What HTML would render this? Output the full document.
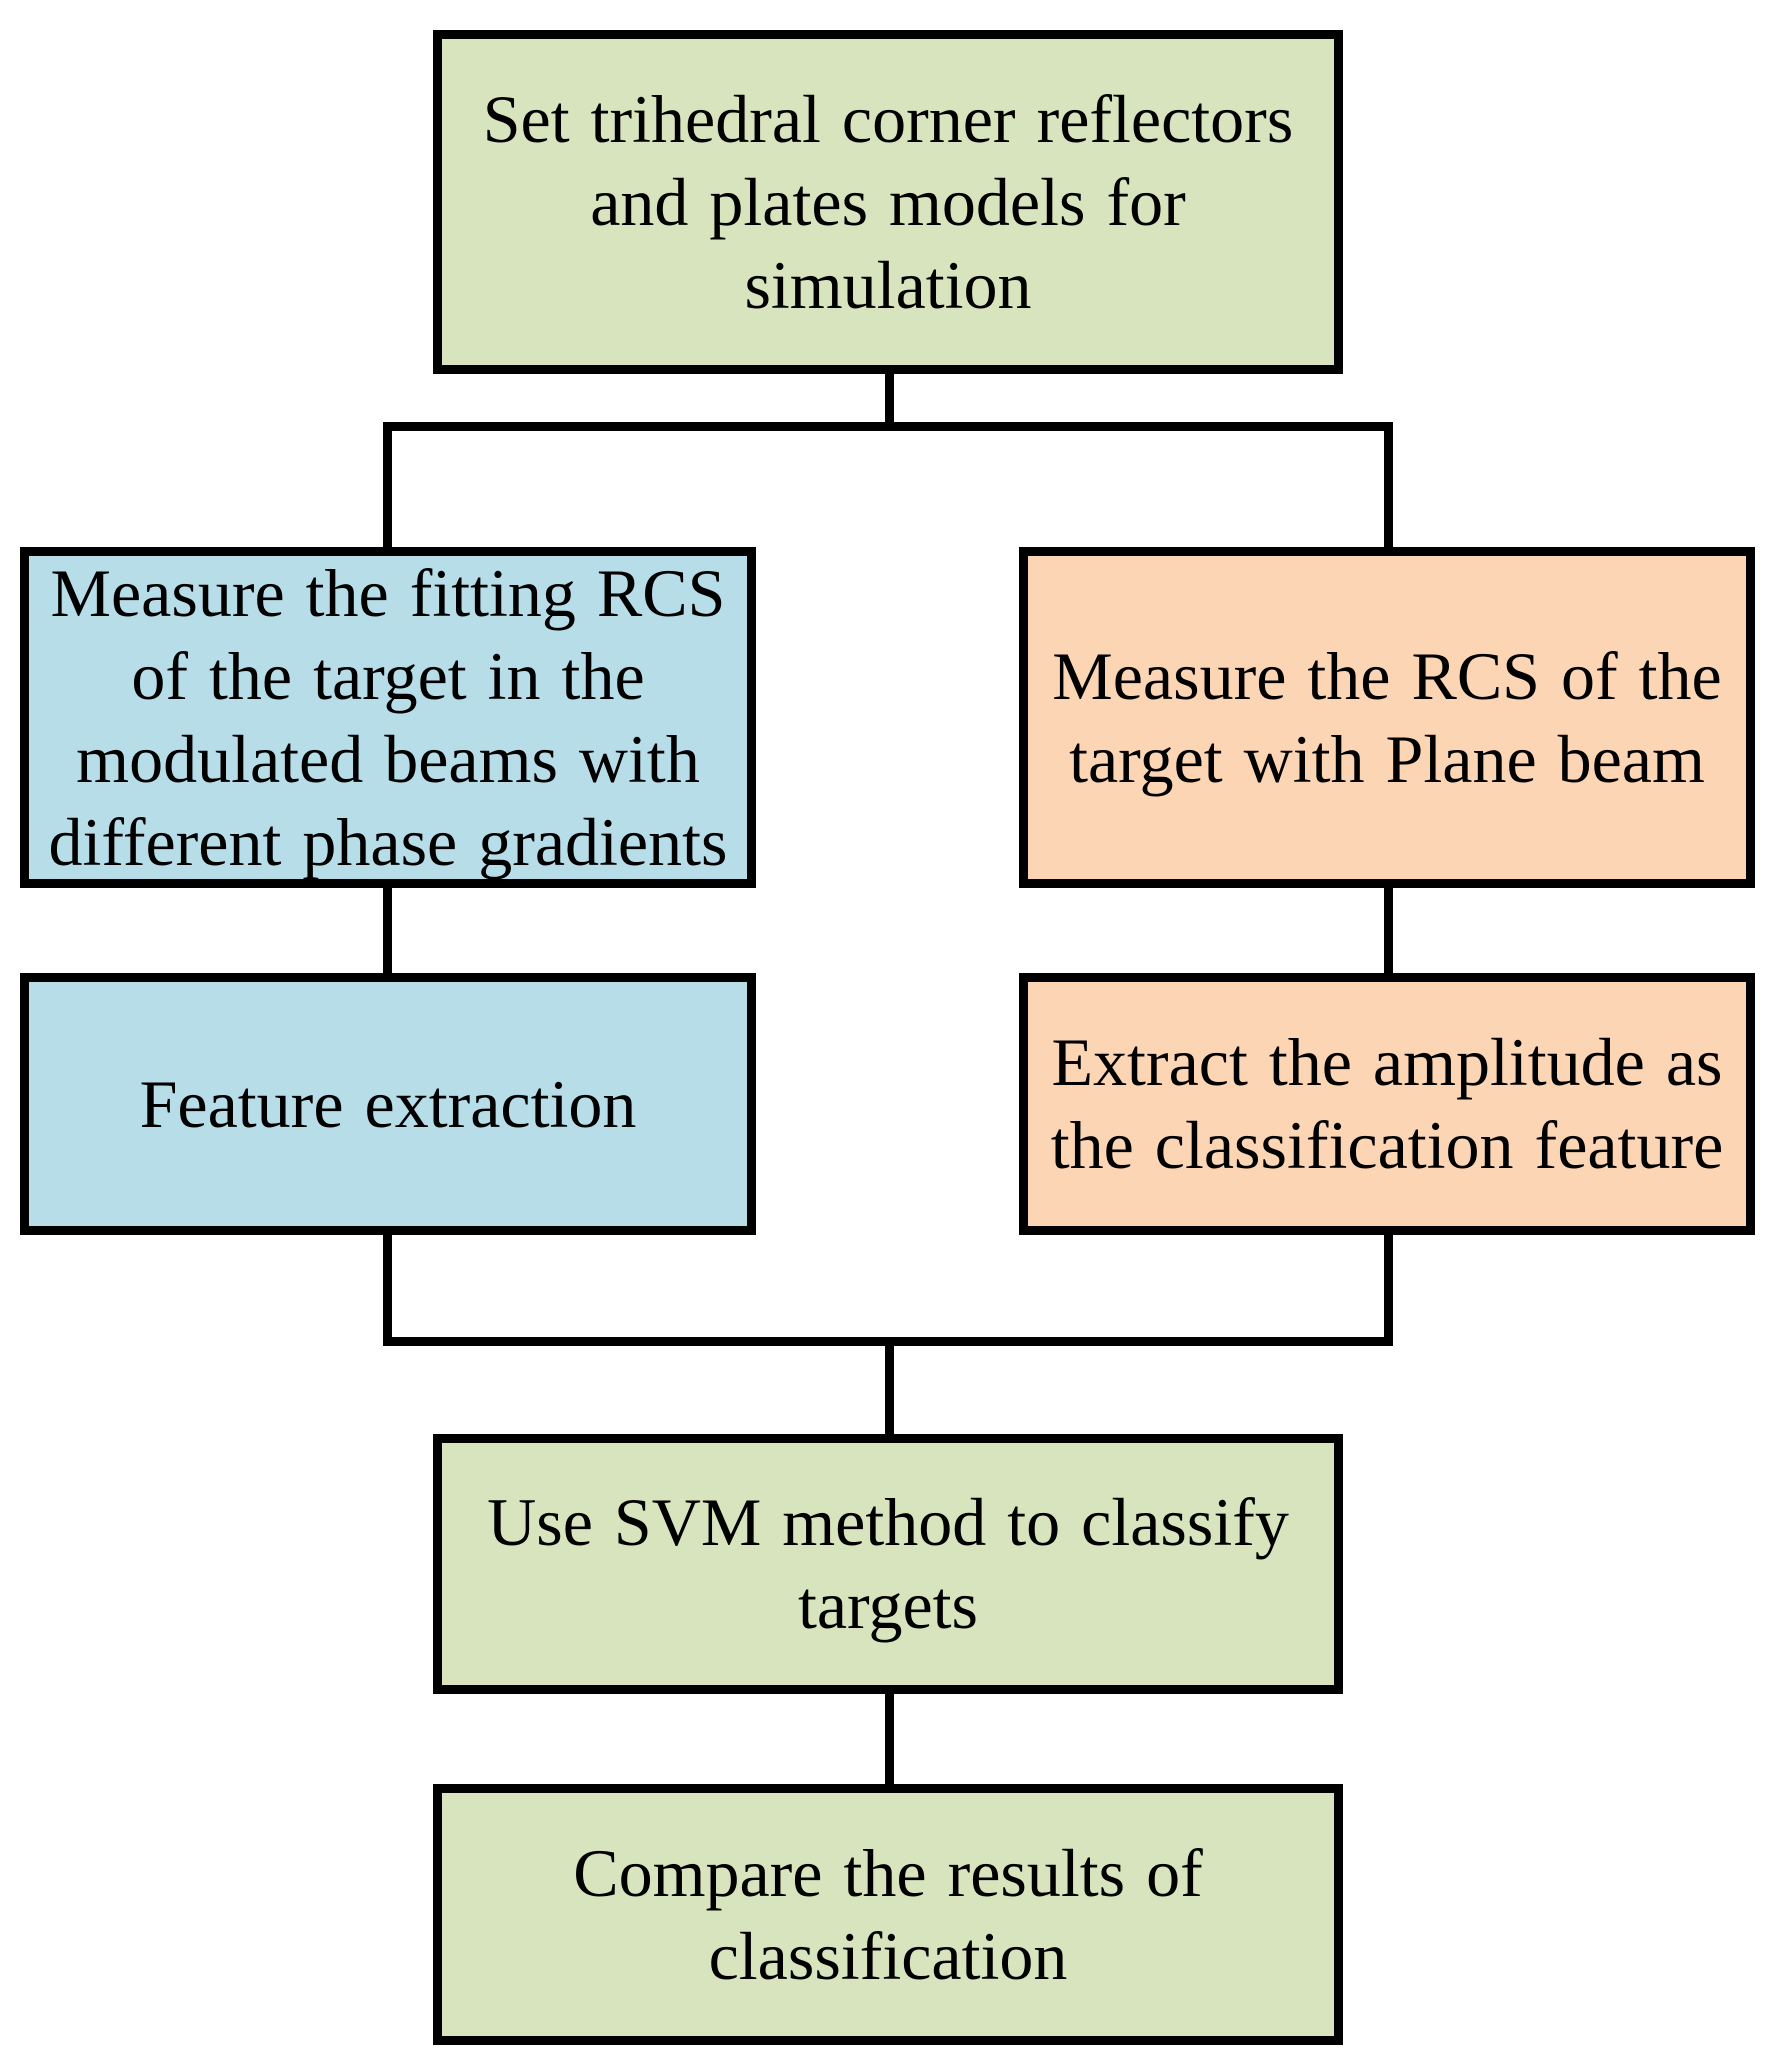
<!DOCTYPE html>
<html><head><style>
body{margin:0;width:1771px;height:2060px;background:#fff;position:relative;overflow:hidden;font-family:"Liberation Serif",serif;}
.b{position:absolute;box-sizing:border-box;border:9px solid #000;display:flex;align-items:center;justify-content:center;text-align:center;font-size:68px;line-height:83px;letter-spacing:0;word-spacing:4px;color:#000;white-space:nowrap;}
.g{background:#d7e4bd}.bl{background:#b7dde8}.o{background:#fcd5b5}
.l{position:absolute;background:#000}
</style></head><body>
<div class="l" style="left:885px;top:370px;width:9px;height:60px"></div>
<div class="l" style="left:383px;top:422px;width:1010px;height:9px"></div>
<div class="l" style="left:383px;top:422px;width:9px;height:128px"></div>
<div class="l" style="left:1384px;top:422px;width:9px;height:128px"></div>
<div class="l" style="left:383px;top:880px;width:9px;height:97px"></div>
<div class="l" style="left:1384px;top:880px;width:9px;height:97px"></div>
<div class="l" style="left:383px;top:1228px;width:9px;height:117px"></div>
<div class="l" style="left:1384px;top:1228px;width:9px;height:117px"></div>
<div class="l" style="left:383px;top:1337px;width:1010px;height:9px"></div>
<div class="l" style="left:885px;top:1337px;width:9px;height:100px"></div>
<div class="l" style="left:885px;top:1688px;width:9px;height:100px"></div>

<div class="b g" style="left:433px;top:30px;width:910px;height:344px">Set trihedral corner reflectors<br>and plates models for<br>simulation</div>
<div class="b bl" style="left:20px;top:547px;width:736px;height:341px">Measure the fitting RCS<br>of the target in the<br>modulated beams with<br>different phase gradients</div>
<div class="b o" style="left:1019px;top:547px;width:736px;height:341px">Measure the RCS of the<br>target with Plane beam</div>
<div class="b bl" style="left:20px;top:973px;width:736px;height:262px">Feature extraction</div>
<div class="b o" style="left:1019px;top:973px;width:736px;height:262px">Extract the amplitude as<br>the classification feature</div>
<div class="b g" style="left:433px;top:1434px;width:910px;height:260px">Use SVM method to classify<br>targets</div>
<div class="b g" style="left:433px;top:1784px;width:910px;height:261px">Compare the results of<br>classification</div>
</body></html>
